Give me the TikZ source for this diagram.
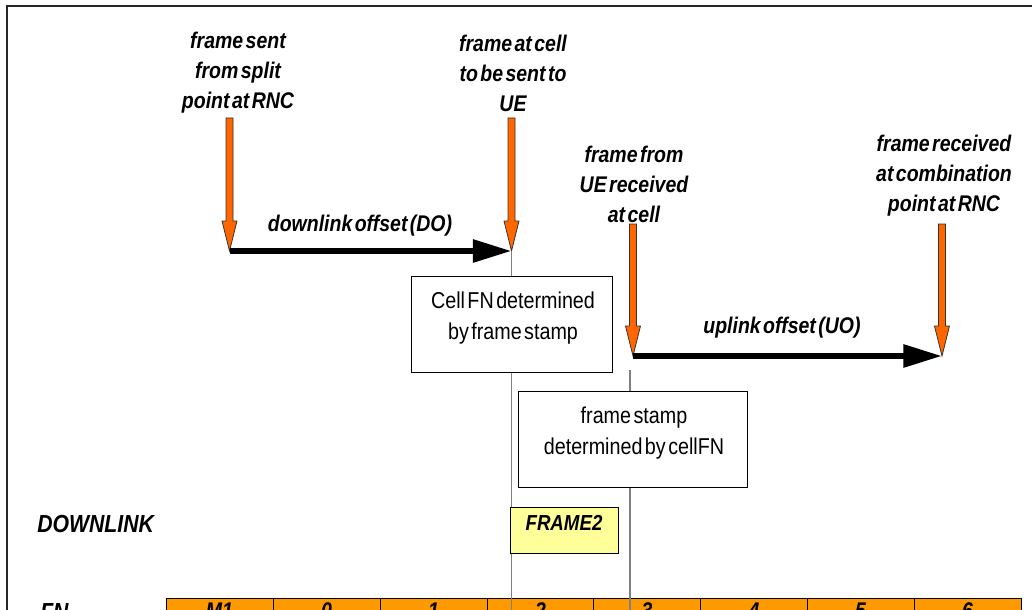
\documentclass[tikz,border=0pt]{standalone}
\usepackage{fontspec}
\setmainfont{Liberation Sans}[FakeStretch=0.86,WordSpace=0.45]
\usetikzlibrary{arrows.meta}
\definecolor{arrorange}{HTML}{FF6600}
\definecolor{cellorange}{HTML}{FF9900}
\definecolor{frameyellow}{HTML}{FFFF99}
\definecolor{guidegrey}{HTML}{808080}
\newcommand\orangearrow[4]{%
  \coordinate (#1) at (#2,#4);
  \filldraw[oarrow] (#2-3.5,#3) -- (#2+3.5,#3) -- (#2+3.5,#4-30) -- (#2+7.5,#4-30)
    -- (#1) -- (#2-7.5,#4-30) -- (#2-3.5,#4-30) -- cycle;}
\begin{document}
\begin{tikzpicture}[x=0.75pt,y=-0.75pt,
  lab/.style={font=\fontsize{17}{22.5}\selectfont\bfseries\itshape, align=center, inner sep=0pt},
  offlab/.style={font=\fontsize{17}{20}\selectfont\bfseries\itshape, inner sep=0pt},
  biglab/.style={font=\fontsize{18.5}{20}\selectfont\bfseries\itshape, inner sep=0pt},
  oarrow/.style={fill=arrorange, draw=black!80, line width=0.6pt, line join=miter},
  offarrow/.style={line width=4.5pt, -{Triangle[length=29pt,width=16.5pt]}},
  guide/.style={draw=guidegrey, line width=0.8pt},
  infobox/.style={draw=black, fill=white, line width=0.75pt, minimum height=72pt, inner sep=0pt},
  infotext/.style={font=\fontsize{17.2}{23}\selectfont, align=center, inner sep=0pt},
  framebox/.style={draw=black, fill=frameyellow, line width=0.75pt, minimum width=81pt, minimum height=34.5pt,
    text height=12pt, text depth=12pt, inner sep=0pt, font=\fontsize{16.3}{18}\selectfont\bfseries\itshape},
  fncell/.style={draw=black, fill=cellorange, line width=0.75pt, minimum width=80.25pt, text height=11.5pt,
    text depth=22.5pt, inner xsep=0pt, inner ysep=3.75pt, anchor=north, font=\fontsize{17}{18}\selectfont\bfseries\itshape},
]
\useasboundingbox (0,0) rectangle (1032,610);
\clip (0,0) rectangle (1032,610);
\fill[white] (0,0) rectangle (1032,610);
% outer frame
\draw[line width=1pt, draw=black!85] (7,700) -- (7,6) -- (1040,6);

% top labels
\node[lab] (l1) at (238,73) {frame sent\\from split\\point at RNC};
\node[lab] (l2) at (513,73) {frame at cell\\to be sent to\\UE};
\node[lab] (l3) at (634,184) {frame from\\UE received\\at cell};
\node[lab] (l4) at (944,176) {frame received\\at combination\\point at RNC};

% FN row
\node[fncell] (cM1) at (219.5,598) {M1};
\node[fncell] (c0) at (326.5,598) {0};
\node[fncell] (c1) at (433.5,598) {1};
\node[fncell] (c2) at (540.5,598) {2};
\node[fncell] (c3) at (647,598) {3};
\node[fncell] (c4) at (754,598) {4};
\node[fncell] (c5) at (860.5,598) {5};
\node[fncell] (c6) at (967.5,598) {6};
\node[biglab, anchor=base west] (fn) at (40,620) {FN};

% orange arrows
\orangearrow{a1}{229.5}{118}{251}
\orangearrow{a2}{511.5}{118}{251}
\orangearrow{a3}{633}{224}{356}
\orangearrow{a4}{942}{224}{356}

% guide lines
\coordinate (g1b) at (511.5,640);
\coordinate (g2t) at (630,370);
\coordinate (g2b) at (630,640);
\draw[guide] (a2) -- (g1b);
\draw[guide] (g2t) -- (g2b);

% offset arrows
\draw[offarrow] (a1) -- (a2);
\draw[offarrow] (a3) -- (a4);
\node[offlab] (dol) at (360,226) {downlink offset (DO)};
\node[offlab] (uol) at (782,328) {uplink offset (UO)};

% info boxes
\node[infobox, minimum width=150.75pt] (b1) at (511.5,324) {};
\node[infotext] (b1t) at (513,318) {Cell FN determined\\by frame stamp};
\node[infobox, minimum width=171.75pt] (b2) at (632.5,439) {};
\node[infotext] (b2t) at (634,433) {frame stamp\\determined by cellFN};

% downlink frame
\node[biglab, anchor=west] (dl) at (37,524) {DOWNLINK};
\node[framebox] (f2) at (564,530) {FRAME2};
\end{tikzpicture}
\end{document}
